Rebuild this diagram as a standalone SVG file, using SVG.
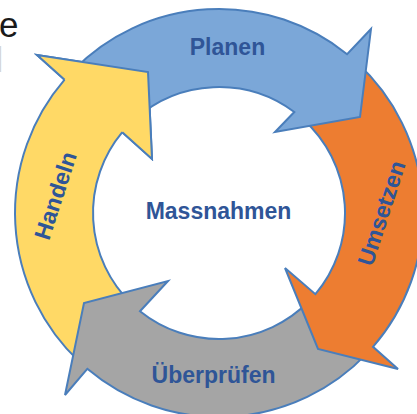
<svg xmlns="http://www.w3.org/2000/svg" width="417" height="414" viewBox="0 0 417 414">
<style>
.arrow{stroke:#4A7EBB;stroke-width:2;stroke-linejoin:miter}
.lbl{font-family:"Liberation Sans",Arial,sans-serif;font-weight:bold;font-size:23px;fill:#2F5597;text-anchor:middle}
.side{font-family:"Liberation Sans",Arial,sans-serif;font-size:35px;fill:#1a1a1a}
</style>
<rect width="417" height="414" fill="#ffffff"/>
<text class="side" x="-1" y="36.5">e</text>
<text class="side" x="-4.5" y="72" style="fill:#d4d4d4">l</text>
<g id="connectors"/>
<g id="handeln">
<path class="arrow" fill="#FFD966" d="M79.9,362.2 A204,204 0 0 1 64.6,79.7 L37,55 L148,72 L152,159 L122.3,132.2 A126,126 0 0 0 131.5,303.6 Z"/>
<text class="lbl" transform="translate(63,198) rotate(-72)">Handeln</text>
</g>
<g id="ueberpruefen">
<path class="arrow" fill="#A5A5A5" d="M367,353.4 A204,204 0 0 1 87.3,368.8 L65,395 L84,303 L168,281 L140,311.2 A126,126 0 0 0 308.9,301.3 Z"/>
<text class="lbl" x="213.5" y="383">Überprüfen</text>
</g>
<g id="umsetzen">
<path class="arrow" fill="#ED7D31" d="M356.8,62.6 A204,204 0 0 1 373,346.8 L398,369 L318,349 L285,268 L315.4,294.2 A126,126 0 0 0 303.3,119.4 Z"/>
<text class="lbl" transform="translate(389,215.6) rotate(-72)">Umsetzen</text>
</g>
<g id="planen">
<path class="arrow" fill="#7BA7D8" d="M73.5,70 A204,204 0 0 1 347.1,54.2 L371,29 L360,117 L275,132 L294.3,112 A126,126 0 0 0 134.7,119.4 Z"/>
<text class="lbl" x="227.5" y="55">Planen</text>
</g>
<g id="handeln-head">
<polygon fill="#FFD966" points="64.6,79.7 37,55 148,72 152,159 122.3,132.2"/>
<polyline class="arrow" fill="none" points="64.6,79.7 37,55 148,72 152,159 122.3,132.2"/>
</g>
<g id="center">
<text class="lbl" x="218.5" y="219">Massnahmen</text>
</g>
</svg>
